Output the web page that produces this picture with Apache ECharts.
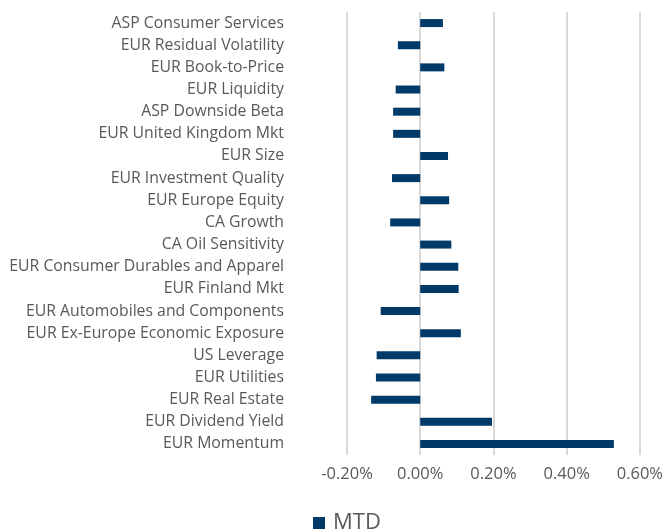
<!DOCTYPE html>
<html>
<head>
<meta charset="utf-8">
<script src="https://cdn.jsdelivr.net/npm/echarts@6/dist/echarts.min.js"></script>
<style>
  html, body { margin: 0; padding: 0; background: #fff; }
  #chart { width: 666px; height: 532px; }
</style>
</head>
<body>
<div id="chart"></div>
<script>
// factor names, top to bottom
var factors = [
	'ASP Consumer Services',
	'EUR Residual Volatility',
	'EUR Book-to-Price',
	'EUR Liquidity',
	'ASP Downside Beta',
	'EUR United Kingdom Mkt',
	'EUR Size',
	'EUR Investment Quality',
	'EUR Europe Equity',
	'CA Growth',
	'CA Oil Sensitivity',
	'EUR Consumer Durables and Apparel',
	'EUR Finland Mkt',
	'EUR Automobiles and Components',
	'EUR Ex-Europe Economic Exposure',
	'US Leverage',
	'EUR Utilities',
	'EUR Real Estate',
	'EUR Dividend Yield',
	'EUR Momentum'
];

// month-to-date contribution, in percent
var mtd = [
	0.062, -0.061, 0.066, -0.067, -0.074, -0.074, 0.076, -0.077, 0.079, -0.082,
	0.085, 0.104, 0.105, -0.108, 0.111, -0.119, -0.121, -0.134, 0.196, 0.529
];

// x axis ticks
var xTicks = [-0.2, 0, 0.2, 0.4, 0.6];

var textColor = '#595959';
var font = '"Open Sans", sans-serif';

var chart = echarts.init(document.getElementById('chart'));

var option = {
	animation: false,
	textStyle: { fontFamily: font },
	grid: { left: 347, right: 26, top: 12, bottom: 77, containLabel: false },
	xAxis: {
		type: 'value',
		min: xTicks[0],
		max: xTicks[xTicks.length - 1],
		interval: 0.2,
		axisLine: { show: false },
		axisTick: { show: false },
		splitLine: { lineStyle: { color: '#d9d9d9', width: 2 } },
		axisLabel: {
			color: textColor,
			fontSize: 16.5,
			margin: 11,
			fontFamily: font,
			formatter: v => v.toFixed(2) + '%'
		}
	},
	yAxis: {
		type: 'category',
		inverse: true,
		data: factors,
		axisLine: { show: false },
		axisTick: { show: false },
		axisLabel: {
			color: textColor,
			fontSize: 15.8,
			margin: 63,
			fontFamily: font
		}
	},
	legend: {
		data: ['MTD'],
		left: 308,
		top: 507,
		itemWidth: 12,
		itemHeight: 12,
		itemGap: 4,
		icon: 'rect',
		textStyle: { color: textColor, fontSize: 22, fontFamily: font, padding: [0, 0, 0, 3] }
	},
	series: [{
		name: 'MTD',
		type: 'bar',
		data: mtd,
		barWidth: 8,
		itemStyle: { color: '#003a68' }
	}]
};

chart.setOption(option);
</script>
</body>
</html>
